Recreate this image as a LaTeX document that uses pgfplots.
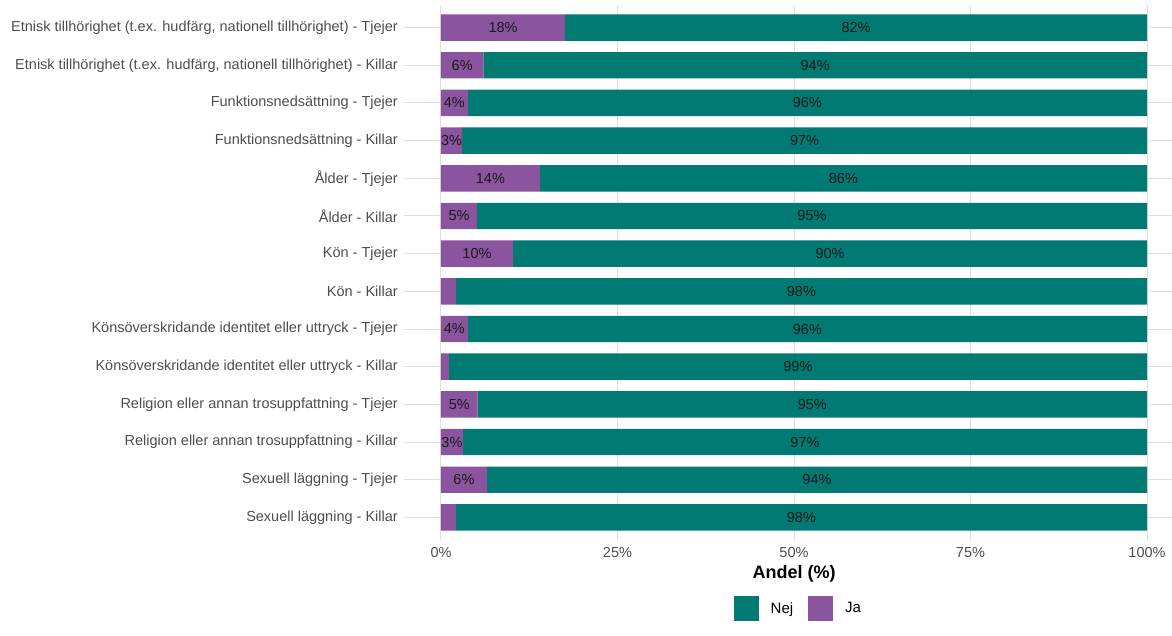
\documentclass[border=0pt]{standalone}
\usepackage{pgfplots}
\pgfplotsset{compat=1.18}
\usepackage{pgfplotstable}
\usepackage{fontspec}
\setmainfont{Liberation Sans}
\definecolor{nej}{RGB}{0,122,114}
\definecolor{ja}{RGB}{138,85,158}
\definecolor{gridc}{RGB}{222,222,222}
\definecolor{labc}{RGB}{77,77,77}

\pgfplotstableread{
y ja nej
14 17.6 82.4
13 6.0 94.0
12 3.8 96.2
11 3.0 97.0
10 14.0 86.0
9 5.1 94.9
8 10.2 89.8
7 2.1 97.9
6 3.8 96.2
5 1.1 98.9
4 5.2 94.8
3 3.1 96.9
2 6.5 93.5
1 2.1 97.9
}\data

\pgfplotstableread{
x y lab
8.8 14 18
3.0 13 6
1.9 12 4
1.5 11 3
7.0 10 14
2.55 9 5
5.1 8 10
1.9 6 4
2.6 4 5
1.55 3 3
3.25 2 6
58.8 14 82
53.0 13 94
51.9 12 96
51.5 11 97
57.0 10 86
52.55 9 95
55.1 8 90
51.05 7 98
51.9 6 96
50.55 5 99
52.6 4 95
51.55 3 97
53.25 2 94
51.05 1 98
}\labels

\newcommand{\fs}{\fontsize{14.5}{17}\selectfont}

\begin{document}
\begin{tikzpicture}
\begin{axis}[
  name=ax,
  scale only axis, width=768pt, height=535pt,
  xbar stacked, bar width=26.4pt,
  xmin=-5.24, xmax=103.54, ymin=0.4, ymax=14.6,
  xtick={0,25,50,75,100},
  xticklabel={\pgfmathprintnumber{\tick}\%},
  /pgf/number format/assume math mode=true,
  ytick={1,...,14},
  yticklabels={
    Sexuell läggning - Killar,
    Sexuell läggning - Tjejer,
    Religion eller annan trosuppfattning - Killar,
    Religion eller annan trosuppfattning - Tjejer,
    Könsöverskridande identitet eller uttryck - Killar,
    Könsöverskridande identitet eller uttryck - Tjejer,
    Kön - Killar,
    Kön - Tjejer,
    Ålder - Killar,
    Ålder - Tjejer,
    Funktionsnedsättning - Killar,
    Funktionsnedsättning - Tjejer,
    {Etnisk tillhörighet (t.ex. hudfärg, nationell tillhörighet) - Killar},
    {Etnisk tillhörighet (t.ex. hudfärg, nationell tillhörighet) - Tjejer}
  },
  xmajorgrids, ymajorgrids,
  grid style={gridc, line width=1pt},
  axis line style={draw=none},
  major tick length=0pt,
  tick label style={font=\fs, text=labc, inner sep=0pt},
  yticklabel style={xshift=-6pt},
  xticklabel style={yshift=-7pt},
  xlabel={Andel (\%)},
  xlabel style={font=\bfseries\fontsize{18}{21}\selectfont, text=black,
    at={(rel axis cs:0.508,0)}, anchor=center, yshift=-34pt},
  legend columns=2,
  reverse legend,
  legend style={at={(0.5135,-0.128)}, anchor=center, draw=none, fill=none,
    font=\fontsize{15}{18}\selectfont, text=black,
    /tikz/every even column/.append style={column sep=13pt},
    inner sep=0pt},
]
\addplot[fill=ja, draw=none,
  legend image code/.code={\fill[ja] (0pt,-12.5pt) rectangle (25pt,12.5pt); \path (35pt,0pt);}]
  table[x=ja, y=y] {\data};
\addlegendentry{Ja}
\addplot[fill=nej, draw=none,
  legend image code/.code={\fill[nej] (0pt,-12.5pt) rectangle (25pt,12.5pt); \path (35pt,0pt);}]
  table[x=nej, y=y] {\data};
\addlegendentry{Nej}
\end{axis}
\begin{axis}[
  scale only axis, width=768pt, height=535pt,
  at={(ax.south west)}, anchor=south west,
  xmin=-5.24, xmax=103.54, ymin=0.4, ymax=14.6,
  hide axis, clip=false,
]
\addplot[draw=none, mark=none, nodes near coords={\pgfplotspointmeta\%},
  point meta=explicit symbolic,
  every node near coord/.append style={font=\fs, text=black!90, anchor=center, inner sep=0pt}]
  table[x=x, y=y, meta=lab] {\labels};
\end{axis}
\pgfresetboundingbox
\path[use as bounding box] ([xshift=-404pt,yshift=-96pt]ax.south west) rectangle ++(1172pt,636pt);
\end{tikzpicture}
\end{document}
